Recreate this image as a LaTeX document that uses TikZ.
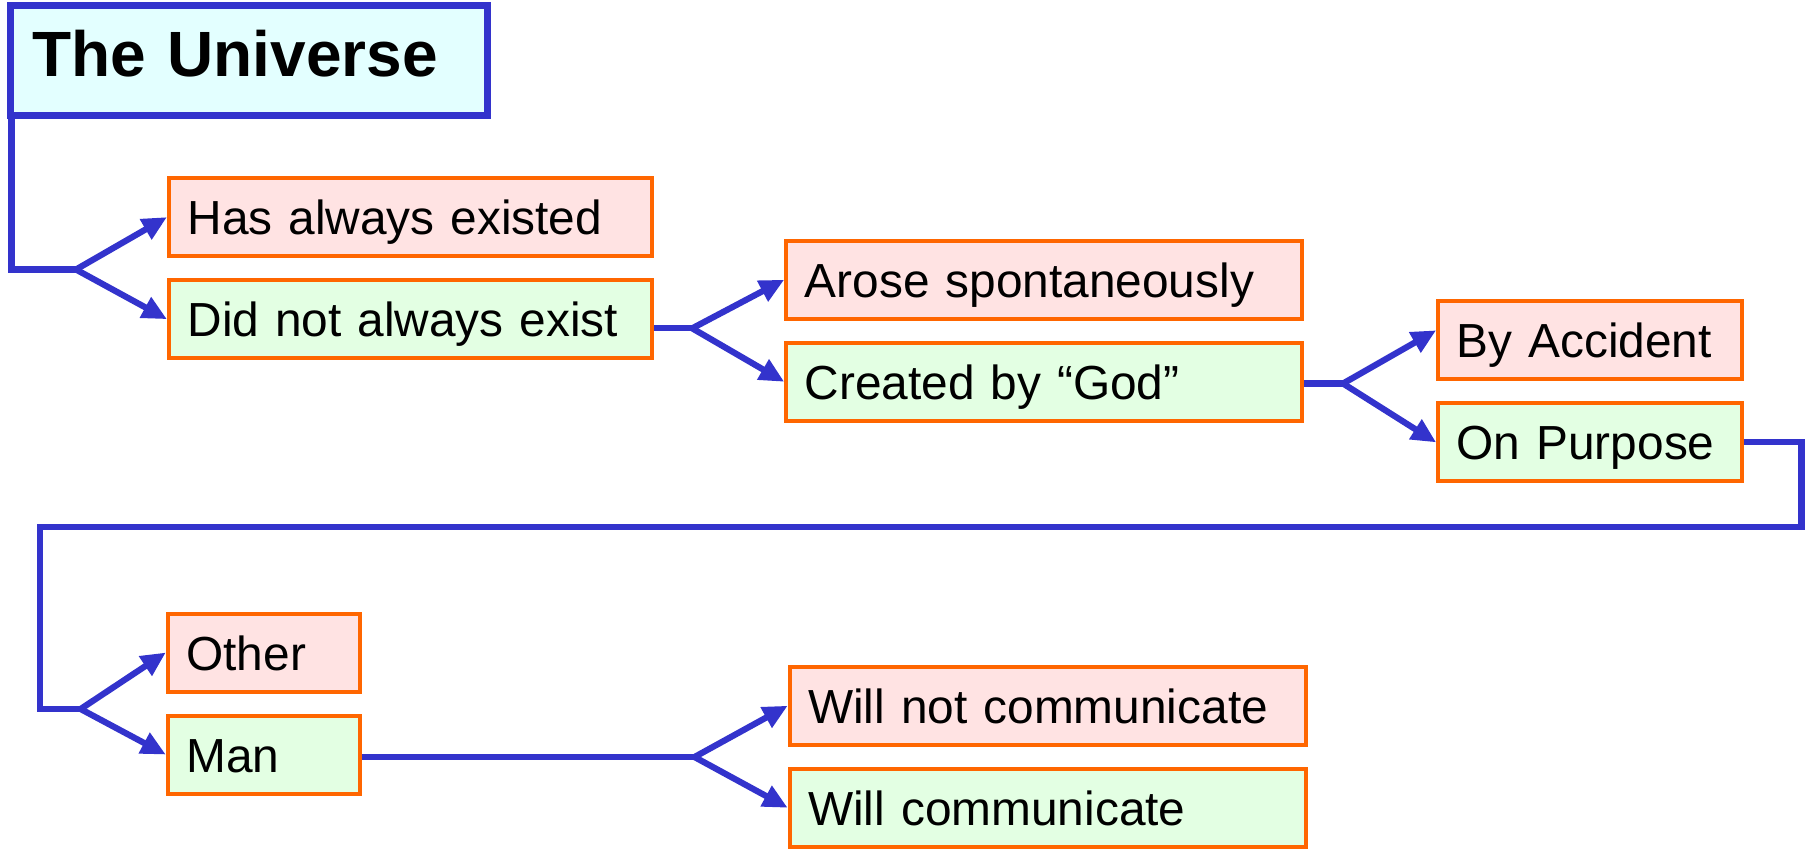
\documentclass[tikz,border=0pt]{standalone}
\usepackage{fontspec}
\setmainfont{Liberation Sans}
\usetikzlibrary{arrows.meta,positioning}
\definecolor{linkblue}{RGB}{51,51,204}
\definecolor{edgeorange}{RGB}{255,102,0}
\definecolor{nofill}{RGB}{255,227,227}
\definecolor{yesfill}{RGB}{227,255,227}
\definecolor{topfill}{RGB}{227,255,255}

\begin{document}
\begin{tikzpicture}[x=0.01cm,y=-0.01cm,>={Triangle[length=7pt,width=6.3pt]},
                    node distance=0.2cm,line width=0.062cm]
  \tikzstyle{every node}=[font=\fontsize{13.6}{16}\selectfont]
  \tikzstyle{choice}=[draw=edgeorange,line width=0.04cm,minimum height=0.78cm,
                      inner xsep=0.185cm,align=left,text height=12.2pt,text depth=2.2pt]
  \tikzstyle{no}=[choice,fill=nofill]
  \tikzstyle{yes}=[choice,fill=yesfill]
  \tikzstyle{link}=[draw=linkblue]
  \tikzstyle{branch}=[link,->]

  \useasboundingbox (0,0) rectangle (1806,850);

  \node[draw=linkblue,fill=topfill,line width=0.07cm,minimum height=1.1cm,
        inner xsep=0.22cm,text width=4.327cm,align=left,text height=13.1pt,
        text depth=4pt,font=\fontsize{18.2}{22}\selectfont\bfseries]
        (uni) at (248.8,60.1) {The Universe};

  \node[no,text width=4.46cm]   (has)   at (410.6,217.1) {Has always existed};
  \node[yes,text width=4.46cm]  (dne)   [below=of has]   {Did not always exist};
  \node[no,text width=4.784cm]  (arose) at (1044.1,279.7) {Arose spontaneously};
  \node[yes,text width=4.784cm] (god)   [below=of arose] {Created by “God”};
  \node[no,text width=2.665cm]  (acc)   at (1590,340.3)  {By Accident};
  \node[yes,text width=2.665cm] (purp)  [below=of acc]   {On Purpose};
  \node[no,text width=1.548cm]  (other) at (263.8,652.5) {Other};
  \node[yes,text width=1.548cm] (man)   [below=of other] {Man};
  \node[no,text width=4.785cm]  (wnot)  at (1047.6,705.7) {Will not communicate};
  \node[yes,text width=4.785cm] (will)  [below=of wnot]  {Will communicate};

  % branch points and corners
  \coordinate (b1) at (76,269.5);
  \coordinate (b2) at (692.2,328.3);
  \coordinate (b3) at (1343,383.5);
  \coordinate (turn1) at (1801.4,527);
  \coordinate (turn2) at (40.3,527);
  \coordinate (b4) at (80.6,709);
  \coordinate (b5) at (694.5,757);

  \draw[link] ([xshift=0.046cm]uni.south west) |- (b1);
  \draw[branch] (b1) -- (has.west);
  \draw[branch] (b1) -- (dne.west);

  \draw[link] (dne.east |- b2) -- (b2);
  \draw[branch] (b2) -- (arose.west);
  \draw[branch] (b2) -- (god.west);

  \draw[link] (god.east |- b3) -- (b3);
  \draw[branch] (b3) -- ([yshift=0.1cm]acc.west);
  \draw[branch] (b3) -- (purp.west);

  \draw[link] (purp.east) -| (turn1) -- (turn2) |- (b4);
  \draw[branch] (b4) -- (other.west);
  \draw[branch] (b4) -- (man.west);

  \draw[link] (man.east |- b5) -- (b5);
  \draw[branch] (b5) -- (wnot.west);
  \draw[branch] (b5) -- (will.west);
\end{tikzpicture}
\end{document}
